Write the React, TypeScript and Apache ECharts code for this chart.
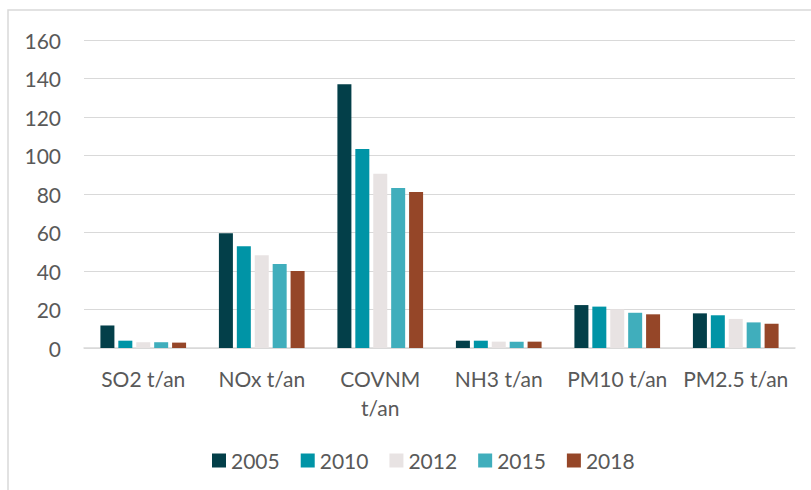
import React, { useEffect, useRef } from "react";
import * as echarts from "echarts";

const categories = ["SO2 t/an", "NOx t/an", "COVNM t/an", "NH3 t/an", "PM10 t/an", "PM2.5 t/an"];
const years = ["2005", "2010", "2012", "2015", "2018"];
const colors = ["#033f49", "#0094a6", "#e8e3e3", "#40aebc", "#954628"];
const v2005 = [11.7, 59.6, 137.0, 3.8, 22.3, 18.0];
const v2010 = [3.8, 52.8, 103.4, 3.8, 21.5, 17.0];
const v2012 = [3.0, 48.2, 90.5, 3.3, 20.1, 15.1];
const v2015 = [3.0, 43.6, 83.1, 3.3, 18.3, 13.3];
const v2018 = [2.8, 40.0, 81.0, 3.3, 17.5, 12.6];
const seriesValues = [v2005, v2010, v2012, v2015, v2018];
const yTicks = { min: 0, max: 160, interval: 20 };

const FONT = "Lato";

export default function App() {
  const ref = useRef<HTMLDivElement>(null);
  useEffect(() => {
    const chart = echarts.init(ref.current!, null, { renderer: "svg" });
    chart.setOption({
      animation: false,
      backgroundColor: "#ffffff",
      graphic: [
        {
          type: "rect",
          shape: { x: 8, y: 10, width: 820, height: 500 },
          style: { fill: "none", stroke: "#d9d9d9", lineWidth: 1.5 },
          silent: true,
        },
      ],
      grid: { left: 84, right: 16, top: 40, bottom: 142 },
      legend: {
        data: years,
        left: 212,
        top: 450,
        padding: 0,
        icon: "rect",
        itemWidth: 14,
        itemHeight: 14,
        itemGap: 21,
        textStyle: { fontFamily: FONT, fontSize: 21, color: "#595959" },
      },
      xAxis: {
        type: "category",
        data: categories,
        axisLine: { lineStyle: { color: "#d9d9d9", width: 1.5 } },
        axisTick: { show: false },
        axisLabel: {
          interval: 0,
          margin: 16,
          fontFamily: FONT,
          fontSize: 21,
          lineHeight: 29,
          color: "#595959",
          formatter: (v: string) => (v === "COVNM t/an" ? "COVNM\nt/an" : v),
        },
      },
      yAxis: {
        type: "value",
        min: yTicks.min,
        max: yTicks.max,
        interval: yTicks.interval,
        axisLine: { show: false },
        axisTick: { show: false },
        splitLine: { lineStyle: { color: "#d9d9d9", width: 1.2 } },
        axisLabel: { margin: 23, fontFamily: FONT, fontSize: 21, color: "#595959" },
      },
      series: years.map((y, i) => ({
        name: y,
        type: "bar",
        data: seriesValues[i],
        barWidth: 14,
        barGap: "28%",
        itemStyle: { color: colors[i] },
      })),
    });
    return () => chart.dispose();
  }, []);
  return (
    <div
      ref={ref}
      style={{ position: "fixed", left: 0, top: 0, width: 811, height: 490 }}
    />
  );
}
